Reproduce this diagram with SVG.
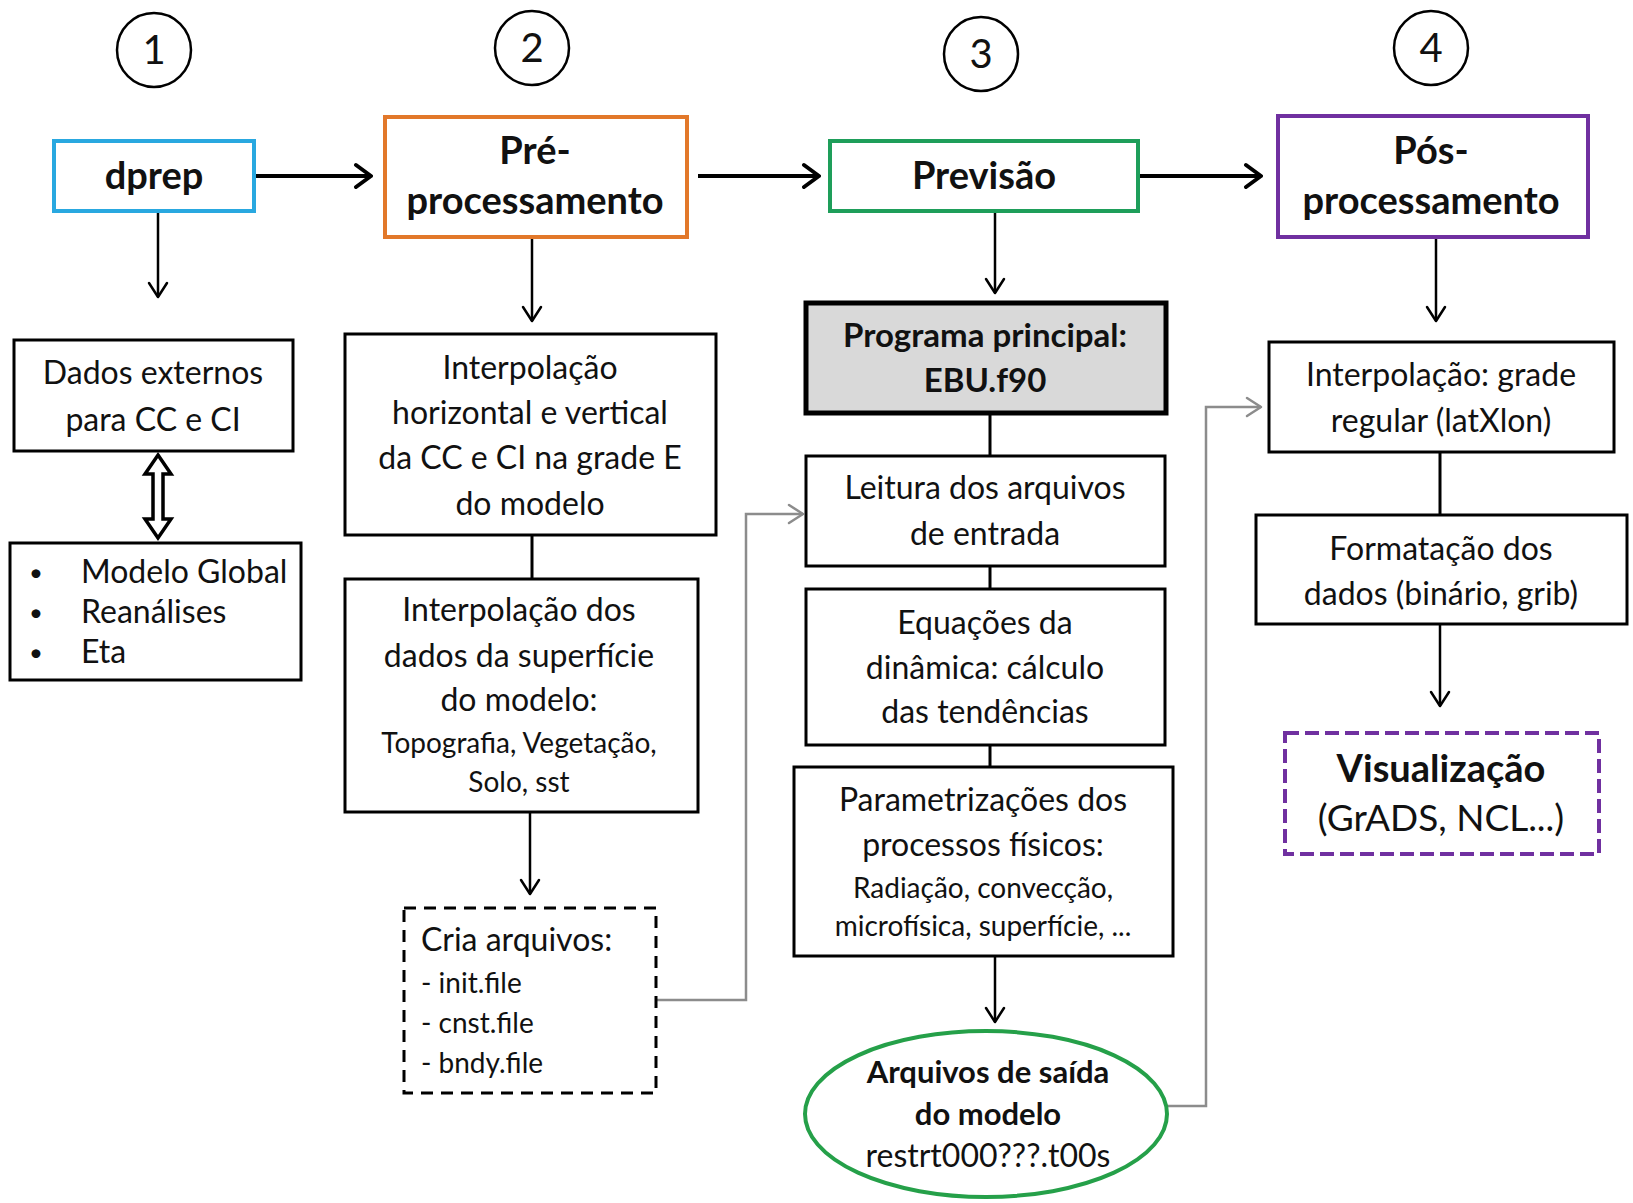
<svg xmlns="http://www.w3.org/2000/svg" width="1633" height="1203" viewBox="0 0 1633 1203">
<style>
text{font-family:Lato,"Open Sans","DejaVu Sans",sans-serif;fill:#111;text-anchor:middle}
.t{font-size:32px}
.s{font-size:28px}
.b{font-weight:bold}
.h{font-size:38px;font-weight:bold}
.num{font-size:40px}
.bul{font-size:24px}
.box{fill:#fff;stroke:#000;stroke-width:3}
.circ{fill:#fff;stroke:#000;stroke-width:2.5}
.thick{fill:none;stroke:#000;stroke-width:4}
.thin{fill:none;stroke:#000;stroke-width:2.5}
.line{fill:none;stroke:#000;stroke-width:3}
.gray{fill:none;stroke:#8c8c8c;stroke-width:2.5}
.l{text-anchor:start}
</style>
<defs>
<marker id="ahBig" markerUnits="userSpaceOnUse" viewBox="0 0 20 28" refX="18" refY="14" markerWidth="20" markerHeight="28" orient="auto">
<path d="M3,3 L18,14 L3,25" fill="none" stroke="#000" stroke-width="4" stroke-linecap="round" stroke-linejoin="round"/>
</marker>
<marker id="ahThin" markerUnits="userSpaceOnUse" viewBox="0 0 18 22" refX="16" refY="11" markerWidth="18" markerHeight="22" orient="auto">
<path d="M2,2 L16,11 L2,20" fill="none" stroke="#000" stroke-width="2.5" stroke-linecap="round" stroke-linejoin="round"/>
</marker>
<marker id="ahGray" markerUnits="userSpaceOnUse" viewBox="0 0 18 22" refX="16" refY="11" markerWidth="18" markerHeight="22" orient="auto">
<path d="M2,2 L16,11 L2,20" fill="none" stroke="#8c8c8c" stroke-width="2.5" stroke-linecap="round" stroke-linejoin="round"/>
</marker>
</defs>
<rect width="1633" height="1203" fill="#fff"/>

<g id="connectors">
<line class="thick" x1="254" y1="176" x2="371" y2="176" marker-end="url(#ahBig)"/>
<line class="thick" x1="698" y1="176" x2="819" y2="176" marker-end="url(#ahBig)"/>
<line class="thick" x1="1140" y1="176" x2="1261" y2="176" marker-end="url(#ahBig)"/>
<line class="thin" x1="158" y1="211" x2="158" y2="297" marker-end="url(#ahThin)"/>
<line class="thin" x1="532" y1="237" x2="532" y2="321" marker-end="url(#ahThin)"/>
<line class="thin" x1="995" y1="211" x2="995" y2="293" marker-end="url(#ahThin)"/>
<line class="thin" x1="1436" y1="237" x2="1436" y2="321" marker-end="url(#ahThin)"/>
<path d="M158,455 L171,474 L163,474 L163,519 L171,519 L158,538 L145,519 L153,519 L153,474 L145,474 Z" fill="#fff" stroke="#000" stroke-width="3.5" stroke-linejoin="miter"/>
<line class="line" x1="532" y1="535" x2="532" y2="579"/>
<line class="thin" x1="530" y1="812" x2="530" y2="894" marker-end="url(#ahThin)"/>
<polyline class="gray" points="656,1000 746,1000 746,514 803,514" marker-end="url(#ahGray)"/>
<line class="line" x1="990" y1="413" x2="990" y2="456"/>
<line class="line" x1="990" y1="566" x2="990" y2="589"/>
<line class="line" x1="990" y1="745" x2="990" y2="767"/>
<line class="thin" x1="995" y1="956" x2="995" y2="1022" marker-end="url(#ahThin)"/>
<polyline class="gray" points="1167,1106 1206,1106 1206,407 1261,407" marker-end="url(#ahGray)"/>
<line class="line" x1="1440" y1="452" x2="1440" y2="515"/>
<line class="thin" x1="1440" y1="624" x2="1440" y2="706" marker-end="url(#ahThin)"/>
</g>

<g id="step1"><circle class="circ" cx="154" cy="50" r="37"/><text class="num" x="154" y="64">1</text></g>
<g id="step2"><circle class="circ" cx="532" cy="48" r="37"/><text class="num" x="532" y="62">2</text></g>
<g id="step3"><circle class="circ" cx="981" cy="54" r="37"/><text class="num" x="981" y="68">3</text></g>
<g id="step4"><circle class="circ" cx="1431" cy="48" r="37"/><text class="num" x="1431" y="62">4</text></g>

<g id="dprep"><rect x="54" y="141" width="200" height="70" fill="#fff" stroke="#29A8E0" stroke-width="4"/><text class="h" x="154" y="189">dprep</text></g>
<g id="pre"><rect x="385" y="117" width="302" height="120" fill="#fff" stroke="#E2782A" stroke-width="4"/><text class="h" x="535" y="164">Pré-</text><text class="h" x="535" y="214">processamento</text></g>
<g id="previsao"><rect x="830" y="141" width="308" height="70" fill="#fff" stroke="#1E9E5A" stroke-width="4"/><text class="h" x="984" y="189">Previsão</text></g>
<g id="pos"><rect x="1278" y="116" width="310" height="121" fill="#fff" stroke="#7030A0" stroke-width="4"/><text class="h" x="1431" y="164">Pós-</text><text class="h" x="1431" y="214">processamento</text></g>

<g id="dados"><rect class="box" x="14" y="340" width="279" height="111"/><text class="t" x="153" y="384">Dados externos</text><text class="t" x="153" y="431">para CC e CI</text></g>
<g id="fontes"><rect class="box" x="10" y="543" width="291" height="137"/>
<text class="bul l" x="29" y="581">•</text><text class="t l" x="81" y="583">Modelo Global</text>
<text class="bul l" x="29" y="621">•</text><text class="t l" x="81" y="623">Reanálises</text>
<text class="bul l" x="29" y="661">•</text><text class="t l" x="81" y="663">Eta</text></g>

<g id="interp1"><rect class="box" x="345" y="334" width="371" height="201"/>
<text class="t" x="530" y="379">Interpolação</text><text class="t" x="530" y="424">horizontal e vertical</text><text class="t" x="530" y="469">da CC e CI na grade E</text><text class="t" x="530" y="515">do modelo</text></g>
<g id="interp2"><rect class="box" x="345" y="579" width="353" height="233"/>
<text class="t" x="519" y="621">Interpolação dos</text><text class="t" x="519" y="667">dados da superfície</text><text class="t" x="519" y="711">do modelo:</text>
<text class="s" x="519" y="753">Topografia, Vegetação,</text><text class="s" x="519" y="792">Solo, sst</text></g>
<g id="cria"><rect x="404" y="908" width="252" height="185" fill="#fff" stroke="#000" stroke-width="3" stroke-dasharray="12 8"/>
<text class="t l" x="421" y="951">Cria arquivos:</text>
<text class="s l" x="421" y="993">- init.file</text><text class="s l" x="421" y="1033">- cnst.file</text><text class="s l" x="421" y="1073">- bndy.file</text></g>

<g id="programa"><rect x="806" y="303" width="360" height="110" fill="#D9D9D9" stroke="#000" stroke-width="5"/>
<text class="b" style="font-size:33px" x="985" y="347">Programa principal:</text><text class="b" style="font-size:33px" x="985" y="392">EBU.f90</text></g>
<g id="leitura"><rect class="box" x="806" y="456" width="359" height="110"/>
<text class="t" x="985" y="499">Leitura dos arquivos</text><text class="t" x="985" y="545">de entrada</text></g>
<g id="equacoes"><rect class="box" x="806" y="589" width="359" height="156"/>
<text class="t" x="985" y="634">Equações da</text><text class="t" x="985" y="679">dinâmica: cálculo</text><text class="t" x="985" y="723">das tendências</text></g>
<g id="param"><rect class="box" x="794" y="767" width="379" height="189"/>
<text class="t" x="983" y="811">Parametrizações dos</text><text class="t" x="983" y="856">processos físicos:</text>
<text class="s" x="983" y="898">Radiação, convecção,</text><text class="s" x="983" y="936">microfísica, superfície, ...</text></g>
<g id="saida"><ellipse cx="986" cy="1114" rx="181" ry="83" fill="#fff" stroke="#25A049" stroke-width="4"/>
<text class="b" style="font-size:31px" x="988" y="1083">Arquivos de saída</text><text class="b" style="font-size:31px" x="988" y="1125">do modelo</text><text class="t" x="988" y="1167">restrt000???.t00s</text></g>

<g id="interp3"><rect class="box" x="1269" y="342" width="345" height="110"/>
<text class="t" x="1441" y="386">Interpolação: grade</text><text class="t" x="1441" y="432">regular (latXlon)</text></g>
<g id="formatacao"><rect class="box" x="1256" y="515" width="371" height="109"/>
<text class="t" x="1441" y="560">Formatação dos</text><text class="t" x="1441" y="605">dados (binário, grib)</text></g>
<g id="visual"><rect x="1285" y="733" width="314" height="121" fill="#fff" stroke="#7030A0" stroke-width="4" stroke-dasharray="14 6"/>
<text class="b" style="font-size:38px" x="1441" y="782">Visualização</text><text style="font-size:37px" x="1441" y="831">(GrADS, NCL...)</text></g>
</svg>
